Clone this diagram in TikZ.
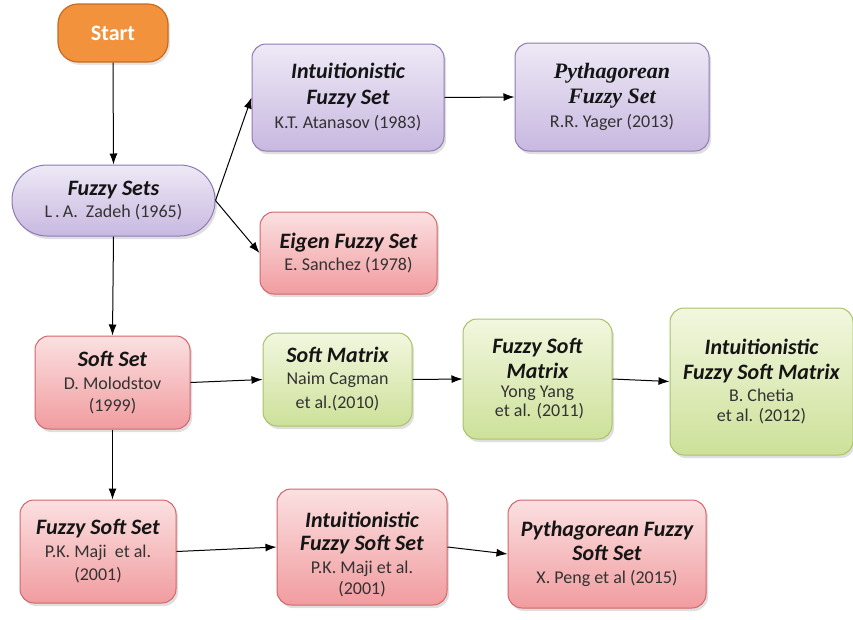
\documentclass[tikz,border=0pt]{standalone}
\usepackage{fontspec}
\setmainfont{Carlito}
\newfontfamily\timesfont{Liberation Serif}
\usetikzlibrary{arrows.meta,shadows}
\definecolor{purpB}{HTML}{8E7AB5}
\definecolor{purpT}{HTML}{EEE9F6}
\definecolor{purpL}{HTML}{C8B8E0}
\definecolor{pinkB}{HTML}{D2666A}
\definecolor{pinkT}{HTML}{FBE0E1}
\definecolor{pinkL}{HTML}{F19C9F}
\definecolor{grnB}{HTML}{A9C26A}
\definecolor{grnT}{HTML}{F2F7DF}
\definecolor{grnL}{HTML}{CDE199}
\definecolor{orgF}{HTML}{F2923C}
\definecolor{orgB}{HTML}{C96A22}
\definecolor{txt}{HTML}{151515}
\definecolor{subtxt}{HTML}{333333}
\tikzset{
  basebox/.style={rounded corners=14pt, line width=1pt, align=center, inner sep=2pt,
    text=subtxt, font=\fontsize{18}{25}\selectfont,
    drop shadow={opacity=0.25, shadow xshift=2pt, shadow yshift=-3pt}},
  purpbox/.style={basebox, draw=purpB, top color=purpT, bottom color=purpL},
  pinkbox/.style={basebox, draw=pinkB, top color=pinkT, bottom color=pinkL},
  grnbox/.style={basebox, draw=grnB, top color=grnT, bottom color=grnL},
  boxtext/.style={align=center, inner sep=2pt, text=subtxt, font=\fontsize{18}{25}\selectfont},
  startbox/.style={rounded corners=20pt, line width=1.2pt, draw=orgB, fill=orgF,
    text=white, font=\fontsize{22}{22}\selectfont\bfseries,
    drop shadow={opacity=0.2, shadow xshift=2pt, shadow yshift=-3pt}},
  conn/.style={line width=1pt, draw=black, -{Latex[length=11pt,width=8pt]}},
}
\newcommand{\ttl}[1]{{\color{txt}\fontsize{22}{27}\selectfont\bfseries\itshape #1}}
\newcommand{\ttlserif}[1]{{\color{txt}\timesfont\fontsize{22}{27}\selectfont\bfseries\itshape #1}}
\begin{document}
\begin{tikzpicture}[x=1pt,y=1pt]
\useasboundingbox (0,0) rectangle (853,-619);
\node[startbox, minimum width=110pt, minimum height=58pt] (start) at (113,-33) {Start};
\node[purpbox, rounded corners=35pt, minimum width=203pt, minimum height=71pt] (fs) at (113.5,-200.5)
  {\ttl{Fuzzy Sets}\\[-3pt] L\,.\,A.\ \ Zadeh (1965)};
\node[purpbox, minimum width=192pt, minimum height=107pt] (ifs) at (348,-97.5)
  {\ttl{Intuitionistic}\\[1pt] \ttl{Fuzzy Set}\\[-1pt] K.T. Atanasov (1983)};
\node[purpbox, minimum width=194pt, minimum height=108pt] (pfs) at (612,-97)
  {\ttlserif{Pythagorean}\\ \ttlserif{Fuzzy Set}\\[-1pt] R.R. Yager (2013)};
\node[pinkbox, minimum width=177pt, minimum height=82pt] (efs) at (348.5,-253)
  {\ttl{Eigen Fuzzy Set}\\[-3pt] E. Sanchez (1978)};
\node[pinkbox, minimum width=155pt, minimum height=93pt] (ss) at (112.5,-382.5)
  {\ttl{Soft Set}\\[-2pt] D. Molodstov\\[-3pt] (1999)};
\node[grnbox, minimum width=149pt, minimum height=93pt] (sm) at (337.5,-379.5)
  {\ttl{Soft Matrix}\\[-3pt] Naim Cagman\\[-1pt] et al.(2010)};
\node[grnbox, minimum width=149pt, minimum height=120pt] (fsm) at (537.5,-379)
  {\ttl{Fuzzy Soft}\\[0pt] \ttl{Matrix}\\[-6pt] Yong Yang\\[-6pt] \ et al. (2011)};
\node[grnbox, minimum width=183pt, minimum height=147pt] (ifsm) at (761.5,-381.5)
  {\ttl{Intuitionistic}\\[0pt] \ttl{Fuzzy Soft Matrix}\\[-3pt] B. Chetia\\[-5pt] et al. (2012)};
\node[pinkbox, minimum width=156pt, minimum height=103pt] (fss) at (98,-551.5)
  {\ttl{Fuzzy Soft Set}\\[-2pt] P.K. Maji\ \ et al.\\[-2pt] (2001)};
\node[pinkbox, minimum width=170pt, minimum height=116pt] (ifss) at (362,-547) {};
\node[boxtext] (ifsst) at (362,-555)
  {\ttl{Intuitionistic}\\[-2pt] \ttl{Fuzzy Soft Set}\\[-2pt] P.K. Maji et al.\\[-4pt] (2001)};
\node[pinkbox, minimum width=198pt, minimum height=108pt] (pfss) at (607,-554)
  {\ttl{Pythagorean Fuzzy}\\[-1pt] \ttl{Soft Set}\\[-2pt] X. Peng et al (2015)};
\draw[conn] (start.south) -- (fs.north);
\draw[conn] (fs.east) -- (ifs.west);
\draw[conn] (fs.east) -- (efs.west);
\draw[conn] (ifs.east) -- (pfs.west);
\draw[conn] (fs.south) -- (ss.north);
\draw[conn] (ss.east) -- (sm.west);
\draw[conn] (sm.east) -- (fsm.west);
\draw[conn] (fsm.east) -- (ifsm.west);
\draw[conn] (ss.south) -- (ss.south |- fss.north);
\draw[conn] (fss.east) -- (ifss.west);
\draw[conn] (ifss.east) -- (pfss.west);
\end{tikzpicture}
\end{document}
